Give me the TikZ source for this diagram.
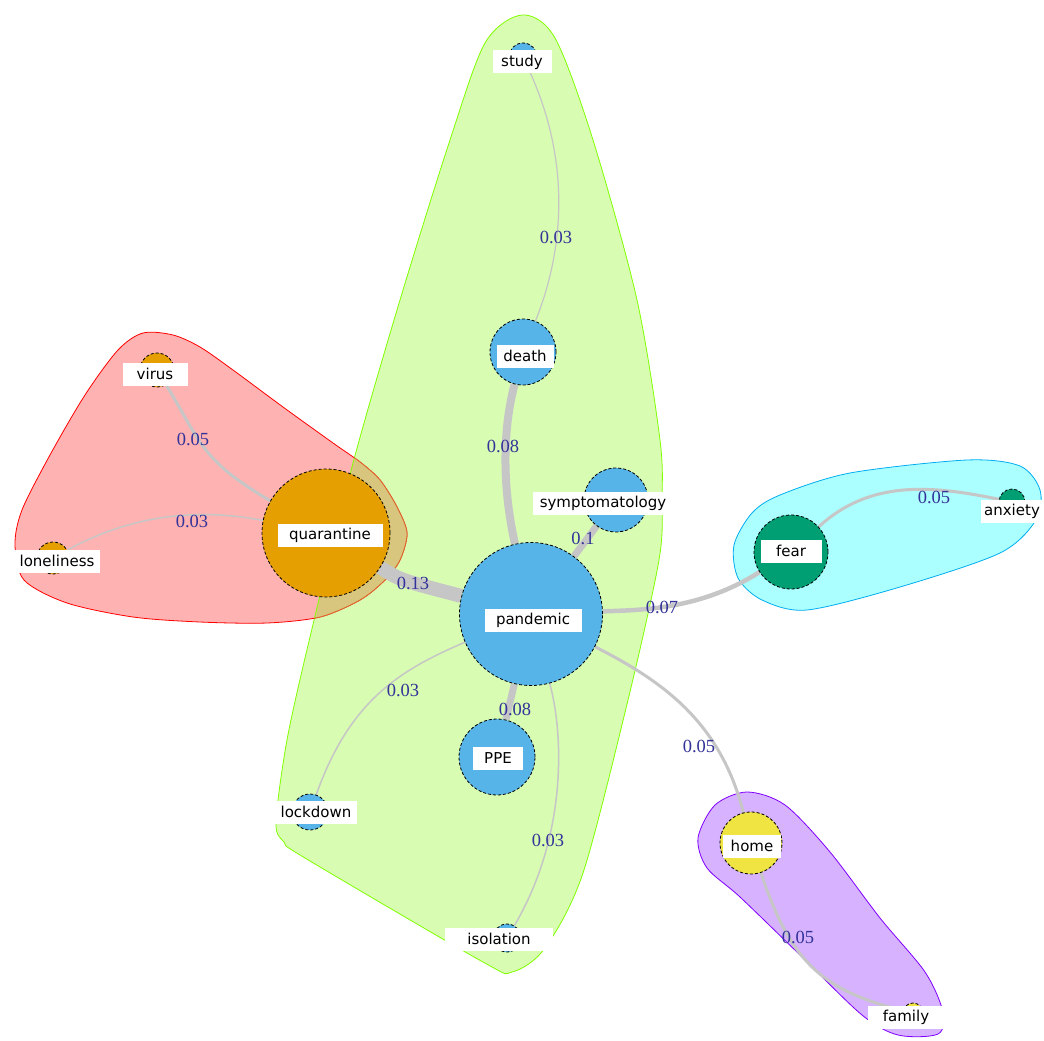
\documentclass[tikz,border=0pt]{standalone}
\usepackage{fontspec}
\usetikzlibrary{positioning}
\newfontfamily\lblfont{DejaVu Sans}
\newfontfamily\wtfont{Liberation Serif}
\definecolor{skyb}{HTML}{56B4E9}
\definecolor{orng}{HTML}{E69F00}
\definecolor{bgreen}{HTML}{009E73}
\definecolor{yllw}{HTML}{F0E442}
\definecolor{edgegray}{RGB}{198,198,198}
\definecolor{wtblue}{RGB}{51,51,153}
\definecolor{hullgreen}{RGB}{216,252,178}
\definecolor{hullgreenb}{RGB}{128,255,0}
\definecolor{hullred}{RGB}{255,178,178}
\definecolor{hulltan}{RGB}{216,198,126}
\definecolor{hulltanb}{RGB}{222,100,40}
\definecolor{hullcyan}{RGB}{172,255,255}
\definecolor{hullpurple}{RGB}{214,178,255}
\definecolor{hullpurpleb}{RGB}{128,0,255}
\pgfdeclarelayer{hulls}
\pgfdeclarelayer{links}
\pgfsetlayers{hulls,links,main}
\newcommand\greenhull{plot[smooth cycle] coordinates {(522,15) (555,38) (593,140) (637,300) (660,440) (662,500) (659,560) (628,700) (583,873) (545,948) (512,972) (483,962) (305,858) (284,842) (276,822) (287,740) (310,637) (353,463) (400,300) (450,140) (485,43)}}
\newcommand\redhull{plot[smooth cycle] coordinates {(143,333) (173,335) (200,347) (233,370) (283,407) (333,443) (360,462) (380,480) (397,507) (407,533) (400,560) (385,580) (360,600) (320,617) (267,623) (200,622) (133,617) (67,603) (24,580) (15,545) (22,510) (50,455) (85,395) (118,350)}}
\newcommand\cyanhull{plot[smooth cycle] coordinates {(734,545) (752,513) (780,495) (850,473) (967,460) (1020,466) (1040,490) (1036,520) (1000,553) (900,587) (807,610) (762,600) (738,578)}}
\newcommand\purplehull{plot[smooth cycle] coordinates {(747,792) (785,805) (830,852) (880,918) (925,972) (943,1012) (938,1034) (898,1035) (862,1015) (800,955) (740,897) (707,868) (698,838) (715,805)}}

\begin{document}
\begin{tikzpicture}[x=1pt, y=-1pt,
    vtx/.style={circle, draw, densely dashed, line width=0.8pt, inner sep=0pt, minimum size=#1},
    lbl/.style={fill=white, inner sep=0pt, minimum height=23pt, minimum width=#1, font=\lblfont\fontsize{15}{17}\selectfont},
    link/.style={draw=edgegray, line width=#1},
    wt/.style={text=wtblue, inner sep=0pt, font=\wtfont\fontsize{18.5}{20}\selectfont}]
    \useasboundingbox (0,0) rectangle (1044,1041);

    % vertices
    \node[vtx=28pt, fill=skyb] (stu) at (523,57) {};
    \node[vtx=66pt, fill=skyb] (dea) at (523,352) {};
    \node[vtx=64pt, fill=skyb] (sym) at (616,500) {};
    \node[vtx=143pt, fill=skyb] (pan) at (531,614) {};
    \node[vtx=76pt, fill=skyb] (ppe) at (497,757) {};
    \node[vtx=36pt, fill=skyb] (loc) at (310,812) {};
    \node[vtx=28pt, fill=skyb] (iso) at (507,938) {};
    \node[vtx=128pt, fill=orng] (qua) at (326,533) {};
    \node[vtx=34pt, fill=orng] (vir) at (157,370) {};
    \node[vtx=32pt, fill=orng] (lon) at (53,558) {};
    \node[vtx=74pt, fill=bgreen] (fea) at (791,552) {};
    \node[vtx=26pt, fill=bgreen] (anx) at (1012,502) {};
    \node[vtx=62pt, fill=yllw] (hom) at (751,843) {};
    \node[vtx=20pt, fill=yllw] (fam) at (913,1013) {};

    % labels
    \node[lbl=59pt] (stuL) at (522,62) {study};
    \node[lbl=57pt] (deaL) at (525,356) {death};
    \node[lbl=141pt] (symL) at (603,503) {symptomatology};
    \node[lbl=97pt] (panL) at (533,620) {pandemic};
    \node[lbl=50pt] (ppeL) at (498,758) {PPE};
    \node[lbl=82pt] (locL) at (316,812) {lockdown};
    \node[lbl=108pt] (isoL) at (499,939) {isolation};
    \node[lbl=105pt] (quaL) at (330,535) {quarantine};
    \node[lbl=65pt] (virL) at (155,374) {virus};
    \node[lbl=86pt] (lonL) at (57,561) {loneliness};
    \node[lbl=61pt] (feaL) at (791,551) {fear};
    \node[lbl=62pt] (anxL) at (1012,511) {anxiety};
    \node[lbl=58pt] (homL) at (752,846) {home};
    \node[lbl=77pt] (famL) at (906,1017) {family};

    % links
    \begin{pgfonlayer}{links}
        \draw[link=1.2pt] (stu) .. controls (575,170) and (560,260) .. (dea);
        \draw[link=8pt] (dea) .. controls (500,440) and (505,500) .. (pan);
        \draw[link=7pt] (sym) -- (pan);
        \draw[link=14pt] (qua) .. controls (400,580) .. (pan);
        \draw[link=4.5pt] (pan) .. controls (640,610) and (700,610) .. (fea);
        \draw[link=3pt] (fea) .. controls (870,480) and (930,485) .. (anx);
        \draw[link=3pt] (vir) .. controls (200,440) and (200,460) .. (qua);
        \draw[link=1.5pt] (lon) .. controls (140,510) and (210,510) .. (qua);
        \draw[link=1.5pt] (pan) .. controls (400,670) and (350,700) .. (loc);
        \draw[link=7pt] (pan) -- (ppe);
        \draw[link=1.5pt] (pan) .. controls (565,740) and (565,840) .. (iso);
        \draw[link=3pt] (pan) .. controls (660,680) and (720,720) .. (hom);
        \draw[link=3pt] (hom) .. controls (790,960) and (820,990) .. (fam);
    \end{pgfonlayer}

    % weights
    \node[wt] (w1) at (556,237) {0.03};
    \node[wt] (w2) at (503,446) {0.08};
    \node[wt] (w3) at (583,538) {0.1};
    \node[wt] (w4) at (413,583) {0.13};
    \node[wt] (w5) at (662,607) {0.07};
    \node[wt] (w6) at (934,497) {0.05};
    \node[wt] (w7) at (193,439) {0.05};
    \node[wt] (w8) at (192,521) {0.03};
    \node[wt] (w9) at (403,690) {0.03};
    \node[wt] (w10) at (515,709) {0.08};
    \node[wt] (w11) at (548,840) {0.03};
    \node[wt] (w12) at (699,746) {0.05};
    \node[wt] (w13) at (798,937) {0.05};

    % groups
    \begin{pgfonlayer}{hulls}
        \filldraw[fill=hullgreen, draw=hullgreenb, line width=0.8pt] \greenhull;
        \filldraw[fill=hullred, draw=red, line width=0.8pt] \redhull;
        \begin{scope}
            \clip \redhull;
            \filldraw[fill=hulltan, draw=hullgreenb, line width=0.8pt] \greenhull;
        \end{scope}
        \begin{scope}
            \clip \greenhull;
            \draw[hulltanb, line width=0.8pt] \redhull;
        \end{scope}
        \filldraw[fill=hullcyan, draw=cyan, line width=0.8pt] \cyanhull;
        \filldraw[fill=hullpurple, draw=hullpurpleb, line width=0.8pt] \purplehull;
    \end{pgfonlayer}
\end{tikzpicture}
\end{document}
